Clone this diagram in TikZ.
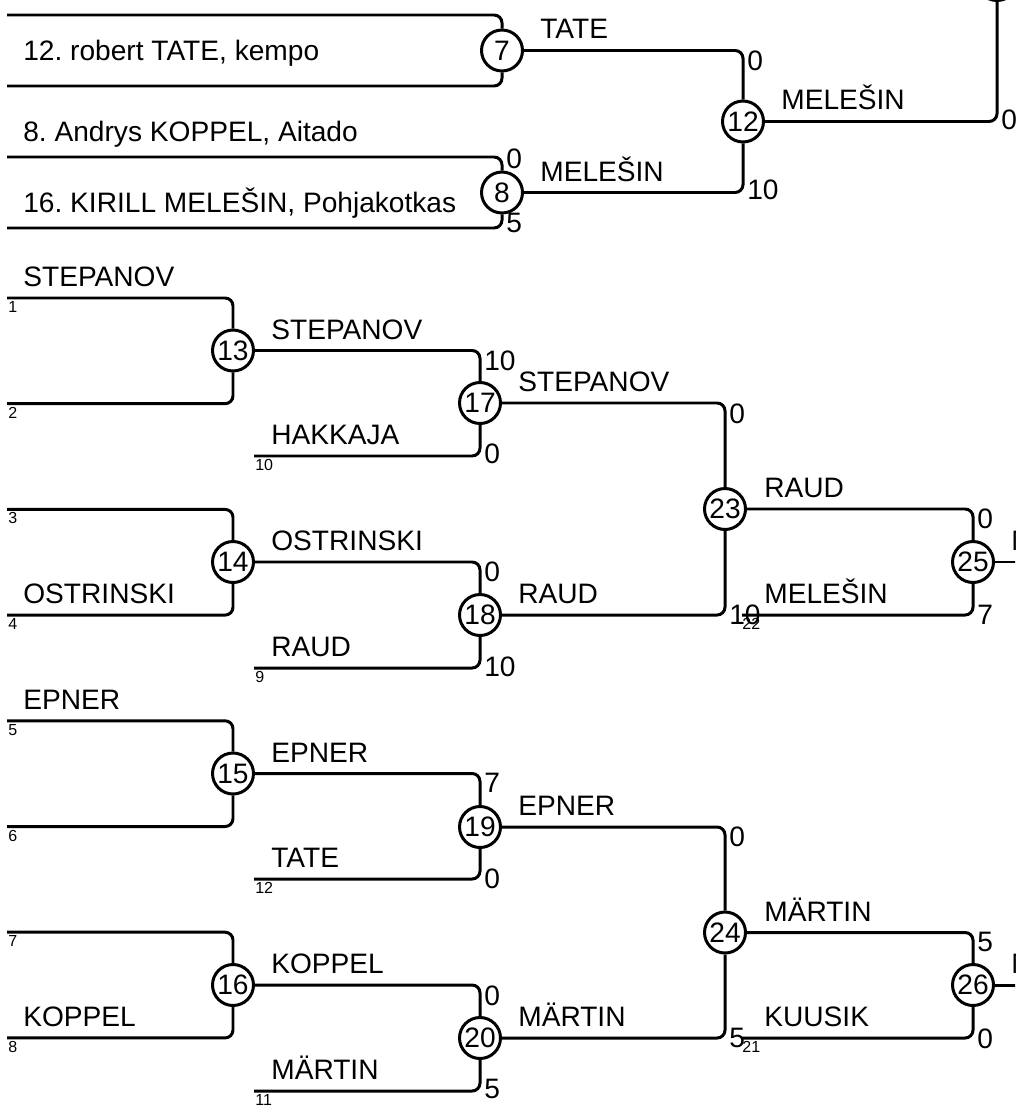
\documentclass[tikz,border=0pt]{standalone}
\usepackage{fontspec}
\setmainfont{Liberation Sans}
\frenchspacing
\newcommand\seedfont{\fontsize{9.1}{10}\selectfont}
\newcommand\namefont{\fontsize{16}{18}\selectfont}
\tikzset{
  bar/.style={line width=1.7pt,rounded corners=4.5pt},
  match/.style={circle,draw,line width=1.7pt,minimum size=0.82cm,inner sep=0pt,fill=white},
  player/.style={anchor=base west,inner sep=0pt},
  seed/.style={anchor=north west,inner sep=0pt,font=\seedfont},
  score/.style={anchor=west,inner sep=0pt}
}
\def\score#1#2#3#4{\node[score] (#1) at (#2,#3) {#4};}
\def\who#1#2#3#4{\node[player] (#1) at (#2,#3) {#4};}

\begin{document}
\begin{tikzpicture}[x=0.02cm,y=-0.02cm,font=\namefont]
\useasboundingbox (0,0) rectangle (1015,1105);
\clip (0,0) rectangle (1015,1105);
% upper part
\node[match] (m7) at (502,50.5) {7};
\node[match] (m8) at (502,192.5) {8};
\node[match] (m12) at (743,121.5) {12};
\node[match] (mtop) at (997,-20) {};
\foreach \i/\y in {1/15,2/86,3/157,4/228} \coordinate (t\i) at (7,\y);
\draw[bar] (t1) -| (m7) (t2) -| (m7) (t3) -| (m8) (t4) -| (m8);
\draw[bar] (m7) -| (m12) (m8) -| (m12);
\draw[bar] (m12) -| (mtop);
\who{q2}{23}{61}{12. robert TATE, kempo}
\who{q3}{23}{141}{8. Andrys KOPPEL, Aitado}
\who{q4}{23}{212}{16. KIRILL MELEŠIN, Pohjakotkas}
\who{w7}{540}{39}{TATE}
\who{w8}{540}{181}{MELEŠIN}
\who{w12}{781}{110}{MELEŠIN}
\score{p8a}{506}{159}{0} \score{p8b}{506}{223}{5}
\score{p12a}{747}{61}{0} \score{p12b}{747}{190}{10}
\score{ptop}{1001}{120}{0}
% main bracket
\foreach \i in {1,...,8} {
  \coordinate (s\i) at (7,{298+(\i-1)*105.7});
  \node[seed] (n\i) at (8,{301+(\i-1)*105.7}) {\i};
}
\foreach \k/\y in {13/350.5,14/562,15/773.5,16/985} \node[match] (m\k) at (233,\y) {\k};
\foreach \k/\y in {17/403,18/615,19/827,20/1038} \node[match] (m\k) at (480,\y) {\k};
\node[match] (m23) at (725,509) {23};
\node[match] (m24) at (725,932.5) {24};
\node[match] (m25) at (973,562) {25};
\node[match] (m26) at (973,985) {26};
\foreach \s/\y in {10/456,9/668,12/879,11/1091} {
  \coordinate (s\s) at (254,\y);
  \node[seed] (n\s) at (255,\y+3) {\s};
}
\foreach \s/\y in {22/615,21/1038} {
  \coordinate (s\s) at (742,\y);
  \node[seed] (n\s) at (742,\y+3) {\s};
}
\coordinate (e25) at (1040,562);
\coordinate (e26) at (1040,985);
\foreach \a/\b/\m in {1/2/13,3/4/14,5/6/15,7/8/16} \draw[bar] (s\a) -| (m\m) (s\b) -| (m\m);
\foreach \a/\b/\m in {13/10/17,14/9/18,15/12/19,16/11/20} \draw[bar] (m\a) -| (m\m) (s\b) -| (m\m);
\draw[bar] (m17) -| (m23) (m18) -| (m23);
\draw[bar] (m19) -| (m24) (m20) -| (m24);
\draw[bar] (m23) -| (m25) (s22) -| (m25);
\draw[bar] (m24) -| (m26) (s21) -| (m26);
\draw[bar] (m25) -- (e25) (m26) -- (e26);
% names
\who{a1}{23}{286}{STEPANOV}
\who{a4}{23}{603}{OSTRINSKI}
\who{a5}{23}{709}{EPNER}
\who{a8}{23}{1026}{KOPPEL}
\who{w13}{271}{339}{STEPANOV}
\who{a10}{271}{444}{HAKKAJA}
\who{w14}{271}{550}{OSTRINSKI}
\who{a9}{271}{656}{RAUD}
\who{w15}{271}{762}{EPNER}
\who{a12}{271}{867}{TATE}
\who{w16}{271}{973}{KOPPEL}
\who{a11}{271}{1079}{MÄRTIN}
\who{w17}{518}{391}{STEPANOV}
\who{w18}{518}{603}{RAUD}
\who{w19}{518}{815}{EPNER}
\who{w20}{518}{1026}{MÄRTIN}
\who{w23}{764}{497}{RAUD}
\who{a22}{764}{603}{MELEŠIN}
\who{w24}{764}{921}{MÄRTIN}
\who{a21}{764}{1026}{KUUSIK}
\who{w25}{1011}{550}{MELEŠIN}
\who{w26}{1011}{973}{MÄRTIN}
% scores
\score{p17a}{484}{361}{10} \score{p17b}{484}{454}{0}
\score{p18a}{484}{572}{0} \score{p18b}{484}{667}{10}
\score{p19a}{484}{783}{7} \score{p19b}{484}{879}{0}
\score{p20a}{484}{996}{0} \score{p20b}{484}{1089}{5}
\score{p23a}{729}{414}{0} \score{p23b}{729}{615}{10}
\score{p24a}{729}{837}{0} \score{p24b}{729}{1038}{5}
\score{p25a}{977}{519}{0} \score{p25b}{977}{615}{7}
\score{p26a}{977}{942}{5} \score{p26b}{977}{1039}{0}
\end{tikzpicture}
\end{document}
